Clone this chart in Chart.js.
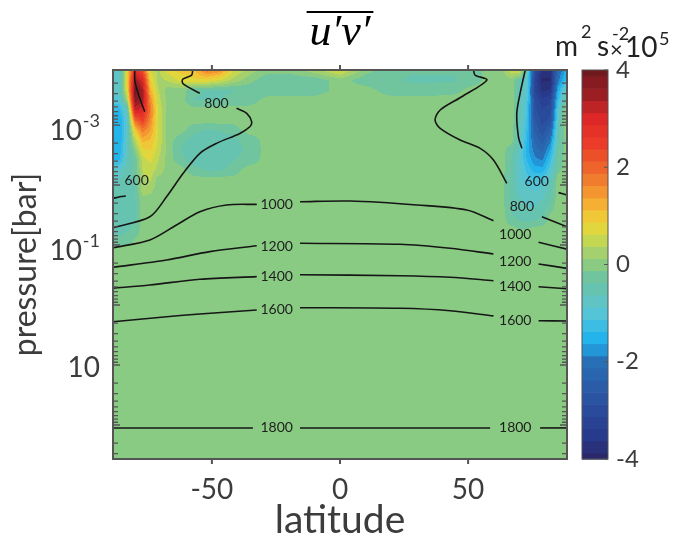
<!DOCTYPE html>
<html>
<head>
<meta charset="utf-8">
<script src="https://cdn.jsdelivr.net/npm/chart.js@4.4.1/dist/chart.umd.min.js"></script>
<style>
  html, body { margin: 0; padding: 0; background: #fff; }
</style>
</head>
<body>
<canvas id="chart" width="679" height="542"></canvas>
<script>
// u'v' eddy momentum flux, latitude vs pressure

const lats = [-88.6, -86, -83, -80, -77, -74, -71, -67, -62, -57, -52, -47, -42, -36, -28, -20, -10, 0,
  10, 20, 28, 36, 44, 52, 58, 63, 67, 70, 73, 76, 79, 82, 85, 88.6];
const pressures = [1.2e-4, 1.8e-4, 2.6e-4, 3.8e-4, 5.6e-4, 8.3e-4, 1.2e-3, 1.8e-3, 2.6e-3, 3.8e-3,
  5.6e-3, 8.3e-3, 1.2e-2, 1.8e-2, 2.6e-2, 3.8e-2, 5.6e-2, 8.3e-2, 0.12];
// u'v' in units of 1e5 m^2 s^-2, one row per pressure level
const uv = [
  [-0.6,-0.7,0.8,2.9,2.2,0.6,0.3,0.8,1.0,1.1,1.8,1.6,0.7,0.3,0,0,0.3,0.7,0,-0.3,-0.35,-0.35,-0.35,-0.3,0,0,0.6,0.7,-0.6,-2.9,-3.8,-3.8,-2.2,-1.5],
  [-0.8,-0.8,0.9,3.6,3.0,0.9,0.3,0.4,0.7,0.8,0.8,0.6,0.3,0,-0.35,-0.35,-0.3,0,-0.3,-0.35,-0.4,-0.4,-0.4,-0.3,0,0,0,-0.4,-0.8,-3.1,-3.9,-3.9,-2.0,-1.2],
  [-0.8,-0.7,0.8,4.0,3.4,1.2,0.4,0,0,-0.3,-0.4,-0.4,-0.4,-0.3,-0.35,-0.35,-0.3,0,0,-0.3,-0.3,-0.3,-0.25,0,0,0,0,-0.5,-0.9,-3.1,-3.7,-3.6,-1.6,-0.5],
  [-1.0,-0.9,0.3,3.8,3.4,1.6,0.5,0,0,-0.4,-0.4,-0.4,-0.3,-0.3,0,0,0,0,0,0,0,0,0,0,0,0,0,-0.5,-1.0,-2.9,-3.3,-3.2,-1.3,-0.3],
  [-1.3,-1.4,-0.6,3.2,3.0,1.8,0.6,0,0,0,0,0,0,0,0,0,0,0,0,0,0,0,0,0,0,0,0,-0.5,-1.1,-2.8,-3.1,-3.0,-1.0,0.3],
  [-1.5,-1.6,-0.8,2.0,2.5,1.6,0.6,0,0,0,0,0,0,0,0,0,0,0,0,0,0,0,0,0,0,0,0,-0.5,-1.2,-2.6,-3.0,-2.8,-0.8,0.3],
  [-1.5,-1.6,-0.8,1.0,1.8,1.4,0.6,0,0,-0.3,-0.4,-0.35,-0.3,0,0,0,0,0,0,0,0,0,0,0,0,0,0,-0.55,-1.3,-2.4,-2.8,-2.4,-0.6,0.1],
  [-1.5,-1.6,-0.7,0.4,1.2,1.1,0.6,0,-0.3,-0.5,-0.5,-0.5,-0.45,-0.3,0,0,0,0,0,0,0,0,0,0,0,0,0,-0.6,-1.4,-2.2,-2.5,-2.0,-0.5,0],
  [-1.5,-1.5,-0.7,0,0.8,0.9,0.5,0,-0.4,-0.5,-0.5,-0.5,-0.45,-0.35,0,0,0,0,0,0,0,0,0,0,0,0,-0.3,-0.7,-1.5,-2.0,-2.2,-1.6,-0.4,0],
  [-1.4,-1.4,-0.6,-0.3,0.5,0.7,0.4,0,-0.3,-0.5,-0.5,-0.5,-0.4,-0.3,0,0,0,0,0,0,0,0,0,0,0,0,-0.4,-0.8,-1.4,-1.8,-1.9,-1.3,-0.3,0],
  [-0.9,-0.8,-0.5,-0.3,0.4,0.5,0.3,0,0,-0.3,-0.4,-0.4,-0.3,0,0,0,0,0,0,0,0,0,0,0,0,0,-0.4,-0.8,-1.2,-1.5,-1.5,-1.0,-0.2,0],
  [-0.7,-0.6,-0.5,-0.35,0.3,0.4,0,0,0,0,0,0,0,0,0,0,0,0,0,0,0,0,0,0,0,0,-0.45,-0.8,-1.0,-1.1,-1.0,-0.7,0,0],
  [-0.6,-0.6,-0.5,-0.4,0.3,0.2,0,0,0,0,0,0,0,0,0,0,0,0,0,0,0,0,0,0,0,0,-0.45,-0.7,-0.8,-0.9,-0.8,-0.5,0,0],
  [-0.6,-0.6,-0.5,-0.4,0,0,0,0,0,0,0,0,0,0,0,0,0,0,0,0,0,0,0,0,0,0,-0.45,-0.6,-0.7,-0.7,-0.6,-0.4,0,0],
  [-0.6,-0.55,-0.5,-0.4,0,0,0,0,0,0,0,0,0,0,0,0,0,0,0,0,0,0,0,0,0,0,-0.4,-0.55,-0.6,-0.6,-0.5,-0.2,0,0],
  [-0.5,-0.5,-0.5,-0.4,0,0,0,0,0,0,0,0,0,0,0,0,0,0,0,0,0,0,0,0,0,0,-0.3,-0.4,-0.45,-0.4,-0.3,0,0,0],
  [-0.5,-0.5,-0.4,-0.3,0,0,0,0,0,0,0,0,0,0,0,0,0,0,0,0,0,0,0,0,0,0,0,-0.1,-0.1,0,0,0,0,0],
  [-0.3,-0.3,-0.25,-0.1,0,0,0,0,0,0,0,0,0,0,0,0,0,0,0,0,0,0,0,0,0,0,0,0,0,0,0,0,0,0],
  [0,0,0,0,0,0,0,0,0,0,0,0,0,0,0,0,0,0,0,0,0,0,0,0,0,0,0,0,0,0,0,0,0,0]
];

// contour lines (latitude, pressure), split where the labels sit
const c600 = [
  [[-80.1, 1.21e-4], [-80.1, 1.78e-4], [-78.8, 2.96e-4], [-76.2, 6.0e-4]],
  [[-88.6, 0.0167], [-85.9, 0.0157], [-83.6, 0.0152]],
  [[72.3, 1.21e-4], [70.3, 2.96e-4], [69.0, 6.38e-4], [69.65, 1.57e-3], [71.0, 2.45e-3]],
  [[85.3, 0.0134], [88.6, 0.0147]]
];
const c800 = [
  [[-88.6, 0.0515], [-74.2, 0.0338], [-67.7, 0.0157], [-61.2, 0.00638], [-54.7, 0.00296], [-48.2, 0.00202],
   [-39.1, 0.00138], [-35.2, 0.00107], [-34.5, 8.8e-4], [-36.4, 6.38e-4], [-40.4, 5.27e-4]],
  [[-54.7, 2.96e-4], [-61.2, 2.07e-4], [-61.4, 1.73e-4], [-57.9, 1.47e-4], [-57.5, 1.21e-4]],
  [[52.1, 1.21e-4], [52.7, 1.47e-4], [57.3, 1.78e-4], [47.5, 3.38e-4], [39.1, 5.62e-4], [37.1, 8.25e-4],
   [39.1, 1.135e-3], [46.9, 1.78e-3], [54.7, 2.45e-3], [59.9, 3.83e-3], [65.1, 9.37e-3]],
  [[78.8, 0.0338], [88.6, 0.0496]]
];
const c1000 = [
  [[-88.6, 0.111], [-74.2, 0.0825], [-63.8, 0.0464], [-54.7, 0.0279], [-44.3, 0.0215], [-32.5, 0.021]],
  [[-15.6, 0.019], [3.9, 0.0185], [30, 0.0215], [49.5, 0.0261], [59.9, 0.0394]],
  [[77.5, 0.0902], [88.6, 0.117]]
];
const c1200 = [
  [[-88.6, 0.235], [-67.7, 0.178], [-50.8, 0.129], [-32.5, 0.103]],
  [[-15.6, 0.0937], [23.4, 0.0973], [43, 0.1135], [59.9, 0.141]],
  [[77.5, 0.207], [88.6, 0.245]]
];
const c1400 = [
  [[-88.6, 0.527], [-74.2, 0.464], [-54.7, 0.373], [-32.5, 0.337]],
  [[-15.6, 0.313], [23.4, 0.325], [43, 0.345], [59.9, 0.394]],
  [[77.5, 0.495], [88.6, 0.535]]
];
const c1600 = [
  [[-88.6, 1.90], [-67.7, 1.57], [-54.7, 1.41], [-32.5, 1.21]],
  [[-15.6, 1.11], [23.4, 1.135], [43, 1.245], [59.9, 1.52]],
  [[77.5, 1.83], [88.6, 1.85]]
];
const c1800 = [
  [[-88.6, 112], [-34, 112]],
  [[-15.6, 112], [58.6, 112]],
  [[78.1, 112], [88.6, 112]]
];

const labelLat = [-48.2, -79.4, 76.8, 71.0, -24.7, 68.4, -24.7, 68.4, -24.7, 68.4, -24.7, 68.4, -24.7, 68.4];
const labelP = [4.35e-4, 8.25e-3, 8.9e-3, 0.0224, 0.0215, 0.068, 0.1067, 0.19, 0.337, 0.482, 1.21, 1.78, 112, 112];
const labelText = ['800', '600', '600', '800', '1000', '1000', '1200', '1200', '1400', '1400', '1600', '1600', '1800', '1800'];

const xTicks = [-50, 0, 50];
const yTicks = [1e-3, 1e-1, 10];
const yTickExp = ['-3', '-1', ''];
const cbTicks = [-4, -2, 0, 2, 4];

// colormap stops (value -> rgb)
const cmap = [
  [-4.0, [42, 40, 105]], [-3.5, [40, 58, 140]], [-3.0, [42, 74, 155]], [-2.5, [42, 92, 168]],
  [-2.0, [40, 112, 182]], [-1.75, [35, 150, 215]], [-1.5, [35, 180, 235]], [-1.25, [60, 190, 228]],
  [-1.0, [84, 196, 215]], [-0.75, [95, 196, 195]], [-0.5, [102, 195, 175]], [-0.25, [112, 197, 158]],
  [0, [138, 203, 131]], [0.25, [165, 208, 110]], [0.5, [195, 215, 80]], [0.75, [225, 215, 60]],
  [1.0, [240, 200, 55]], [1.25, [245, 175, 50]], [1.5, [243, 150, 48]], [1.75, [240, 125, 45]],
  [2.0, [238, 100, 42]], [2.5, [234, 60, 40]], [3.0, [222, 40, 40]], [3.25, [190, 35, 38]],
  [3.5, [155, 30, 35]], [4.0, [112, 26, 30]]
];

function levelColor(q) {
  for (let i = 0; i < cmap.length - 1; i++) {
    const [a, ca] = cmap[i], [b, cb] = cmap[i + 1];
    if (q >= a && q <= b) {
      const t = (q - a) / (b - a);
      return ca.map((c, k) => Math.round(c + (cb[k] - c) * t));
    }
  }
  return cmap[cmap.length - 1][1];
}
const palette = [];
for (let k = -16; k <= 16; k++) palette.push(levelColor(k / 4));
function colorFor(v) {
  let k = Math.round(v * 4);
  k = Math.max(-16, Math.min(16, k));
  return palette[k + 16];
}

function locate(arr, v) {
  const n = arr.length - 1;
  if (v <= arr[0]) return [0, 0];
  if (v >= arr[n]) return [n - 1, 1];
  let i = 0;
  while (arr[i + 1] < v) i++;
  return [i, (v - arr[i]) / (arr[i + 1] - arr[i])];
}

const fieldPlugin = {
  id: 'field',
  beforeDatasetsDraw(chart) {
    const { ctx, chartArea: a, scales: { x, y, cb } } = chart;
    const w = Math.ceil(a.right - a.left), h = Math.ceil(a.bottom - a.top);
    const off = document.createElement('canvas');
    off.width = w; off.height = h;
    const octx = off.getContext('2d');
    const img = octx.createImageData(w, h);
    const logP = pressures.map(Math.log10);
    const colPos = [], rowPos = [];
    for (let i = 0; i < w; i++) colPos.push(locate(lats, x.getValueForPixel(a.left + i + 0.5)));
    for (let j = 0; j < h; j++) rowPos.push(locate(logP, Math.log10(y.getValueForPixel(a.top + j + 0.5))));
    for (let j = 0; j < h; j++) {
      const [r, tr] = rowPos[j];
      const r0 = uv[r], r1 = uv[r + 1];
      for (let i = 0; i < w; i++) {
        const [c, tc] = colPos[i];
        const v = (r0[c] * (1 - tc) + r0[c + 1] * tc) * (1 - tr) + (r1[c] * (1 - tc) + r1[c + 1] * tc) * tr;
        const col = colorFor(v);
        const k = (j * w + i) * 4;
        img.data[k] = col[0]; img.data[k + 1] = col[1]; img.data[k + 2] = col[2]; img.data[k + 3] = 255;
      }
    }
    octx.putImageData(img, 0, 0);
    ctx.drawImage(off, a.left, a.top);

    // colorbar
    const x0 = a.right + 15, x1 = a.right + 41;
    for (let k = -16; k <= 16; k++) {
      const v0 = Math.max(-4, k / 4 - 0.125), v1 = Math.min(4, k / 4 + 0.125);
      const ya = cb.getPixelForValue(v1), yb = cb.getPixelForValue(v0);
      const col = palette[k + 16];
      ctx.fillStyle = `rgb(${col[0]},${col[1]},${col[2]})`;
      ctx.fillRect(x0, ya, x1 - x0, yb - ya + 0.6);
    }
    ctx.strokeStyle = '#555';
    ctx.lineWidth = 1;
    ctx.strokeRect(x0, cb.getPixelForValue(4), x1 - x0, cb.getPixelForValue(-4) - cb.getPixelForValue(4));
    cbTicks.forEach(v => {
      const py = cb.getPixelForValue(v);
      ctx.beginPath(); ctx.moveTo(x1, py); ctx.lineTo(x1 - 4, py); ctx.stroke();
    });
  }
};

const framePlugin = {
  id: 'frame',
  afterDraw(chart) {
    const { ctx, chartArea: a, scales: { x, y } } = chart;
    ctx.save();
    ctx.strokeStyle = '#555';
    ctx.lineWidth = 2;
    ctx.strokeRect(a.left, a.top, a.right - a.left, a.bottom - a.top);

    // log minor ticks, inward on both sides
    ctx.lineWidth = 1.3;
    for (let e = -4; e <= 2; e++) {
      for (let m = 1; m <= 9; m++) {
        const v = m * Math.pow(10, e);
        if (v < y.min || v > y.max) continue;
        const py = y.getPixelForValue(v);
        const len = m === 1 ? 7 : 5;
        ctx.beginPath();
        ctx.moveTo(a.left, py); ctx.lineTo(a.left + len, py);
        ctx.moveTo(a.right, py); ctx.lineTo(a.right - len, py);
        ctx.stroke();
      }
    }
    // latitude ticks, outward top and bottom
    ctx.lineWidth = 2;
    xTicks.forEach(v => {
      const px = x.getPixelForValue(v);
      ctx.beginPath();
      ctx.moveTo(px, a.bottom); ctx.lineTo(px, a.bottom + 5);
      ctx.moveTo(px, a.top); ctx.lineTo(px, a.top - 5);
      ctx.stroke();
    });

    // pressure tick labels with exponents
    ctx.fillStyle = '#3c3c3c';
    ctx.textBaseline = 'middle';
    ctx.textAlign = 'right';
    yTicks.forEach((v, i) => {
      const py = y.getPixelForValue(v);
      let right = a.left - 13;
      if (yTickExp[i]) {
        ctx.font = '18px Lato';
        ctx.fillText(yTickExp[i], right, py - 4);
        right -= ctx.measureText(yTickExp[i]).width + 1;
        ctx.font = '28px Lato';
        ctx.fillText('10', right, py + 6);
      } else {
        ctx.font = '28px Lato';
        ctx.fillText('10', right, py + 3);
      }
    });

    // contour labels
    ctx.font = '14px Lato';
    ctx.fillStyle = '#1e1e1e';
    ctx.textAlign = 'center';
    labelText.forEach((t, i) => {
      ctx.fillText(t, x.getPixelForValue(labelLat[i]), y.getPixelForValue(labelP[i]));
    });

    // title with overbar
    ctx.fillStyle = '#000';
    ctx.font = 'italic 44px "Liberation Serif"';
    ctx.textBaseline = 'alphabetic';
    const cx = (a.left + a.right) / 2;
    const tw = ctx.measureText('u\u2032v\u2032').width;
    ctx.fillText('u\u2032v\u2032', cx, 45);
    ctx.strokeStyle = '#000';
    ctx.lineWidth = 2;
    ctx.beginPath(); ctx.moveTo(cx - tw / 2 - 3, 12); ctx.lineTo(cx + tw / 2 + 3, 12); ctx.stroke();

    // colorbar units
    ctx.fillStyle = '#222';
    ctx.textAlign = 'left';
    ctx.font = '28px Lato';
    ctx.fillText('m', 555, 56);
    ctx.fillText('s', 597, 56);
    ctx.fillText('10', 625, 57);
    ctx.font = '22px Lato';
    ctx.fillText('\u00d7', 610, 57);
    ctx.font = '18px Lato';
    ctx.fillText('2', 581, 38);
    ctx.fillText('-2', 612, 40);
    ctx.fillText('5', 659, 45);
    ctx.restore();
  }
};

const lineSets = [c600, c800, c1000, c1200, c1400, c1600, c1800];
const datasets = [];
lineSets.forEach(level => level.forEach(seg => {
  datasets.push({
    data: seg.map(([lat, p]) => ({ x: lat, y: p })),
    showLine: true,
    borderColor: '#161616',
    borderWidth: 1.6,
    pointRadius: 0,
    tension: 0.3,
    fill: false
  });
}));

new Chart(document.getElementById('chart'), {
  type: 'scatter',
  data: { datasets },
  options: {
    responsive: false,
    animation: false,
    events: [],
    layout: { padding: { top: 70, left: 0, right: 0, bottom: 0 } },
    plugins: { legend: { display: false }, tooltip: { enabled: false } },
    scales: {
      x: {
        type: 'linear', min: -88.6, max: 88.6, position: 'bottom',
        afterBuildTicks: s => { s.ticks = xTicks.map(v => ({ value: v })); },
        afterFit: s => { s.height = 83; },
        grid: { display: false }, border: { display: false },
        ticks: { font: { family: 'Lato', size: 28 }, color: '#3c3c3c', padding: 6, maxRotation: 0 },
        title: { display: true, text: 'latitude', font: { family: 'Lato', size: 39 }, color: '#3c3c3c', padding: { top: 0, bottom: -2 } }
      },
      y: {
        type: 'logarithmic', reverse: true, min: 1.21e-4, max: 369, position: 'left',
        afterFit: s => { s.width = 113; },
        grid: { display: false }, border: { display: false },
        ticks: { display: false },
        title: { display: true, text: 'pressure[bar]', font: { family: 'Lato', size: 32 }, color: '#3c3c3c', padding: { top: 6, bottom: 0 } }
      },
      cb: {
        type: 'linear', min: -4, max: 4, position: 'right',
        afterBuildTicks: s => { s.ticks = cbTicks.map(v => ({ value: v })); },
        afterFit: s => { s.width = 112; },
        grid: { display: true, drawOnChartArea: false, tickLength: 45, tickColor: 'rgba(0,0,0,0)' },
        border: { display: false },
        ticks: { font: { family: 'Lato', size: 24 }, color: '#3c3c3c', padding: 4 }
      }
    }
  },
  plugins: [fieldPlugin, framePlugin]
});
</script>
</body>
</html>
